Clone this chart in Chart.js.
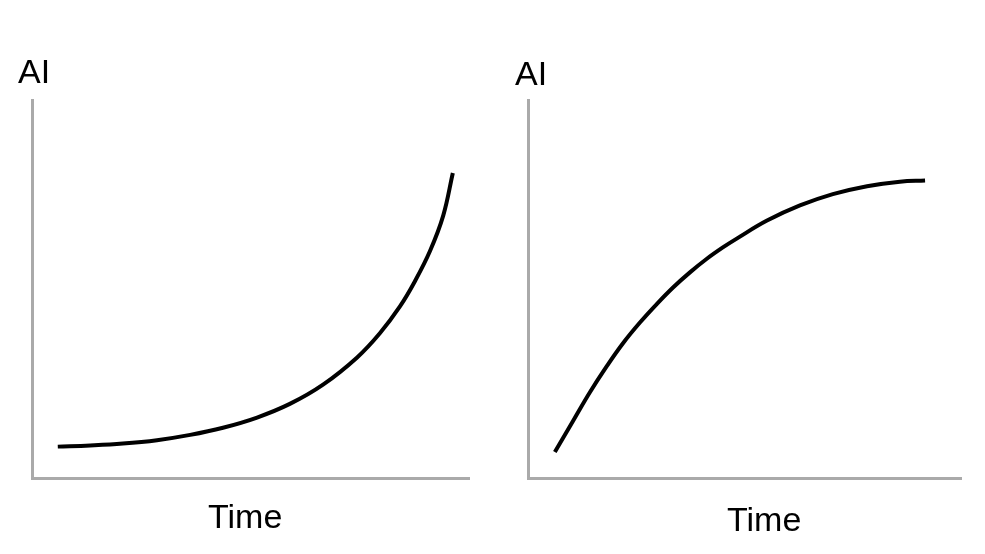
<!DOCTYPE html>
<html>
<head>
<meta charset="utf-8">
<script src="https://cdn.jsdelivr.net/npm/chart.js@4/dist/chart.umd.min.js"></script>
<style>
  html, body { margin: 0; padding: 0; background: #fff; }
  body { width: 985px; height: 554px; position: relative; overflow: hidden; font-family: "Liberation Sans", Arial, sans-serif; }
  .panel { position: absolute; top: 0; height: 554px; }
  .lbl { position: absolute; font-size: 34px; line-height: 34px; color: #000; white-space: nowrap; }
</style>
</head>
<body>
<div class="panel" style="left:0;width:500px;"><canvas id="c1"></canvas></div>
<div class="panel" style="left:496px;width:489px;"><canvas id="c2"></canvas></div>
<div class="lbl" style="left:18px;top:54px;">AI</div>
<div class="lbl" style="left:515px;top:56px;">AI</div>
<div class="lbl" style="left:208px;top:499px;">Time</div>
<div class="lbl" style="left:727px;top:502px;">Time</div>
<script>
// Left panel: accelerating growth
const leftTime = [5.9, 13.3, 20.8, 28.6, 36.2, 43.7, 51.5, 59.0, 66.6, 74.4, 79.6, 84.2, 87.6, 91.1, 94.1, 96.3];
const leftAI   = [8.3, 8.6, 9.1, 10.0, 11.4, 13.3, 16.0, 19.6, 24.7, 31.9, 38.3, 45.4, 52.0, 60.1, 69.4, 80.7];
// Right panel: saturating growth
const rightTime = [6.2, 10.4, 14.3, 18.2, 21.9, 25.9, 29.8, 33.5, 37.4, 41.3, 45.0, 48.3, 55.2, 62.8, 70.4, 78.3, 85.9, 91.7];
const rightAI   = [6.9, 15.1, 22.7, 29.6, 35.6, 41.2, 46.1, 50.4, 54.4, 58.0, 61.0, 63.4, 68.1, 72.1, 75.1, 77.2, 78.4, 78.7];
const axisLabelX = 'Time';
const axisLabelY = 'AI';

function pts(xs, ys) { return xs.map((x, i) => ({ x: x, y: ys[i] })); }

function makeChart(id, xs, ys, pad) {
  return new Chart(document.getElementById(id), {
    type: 'line',
    data: {
      datasets: [{
        label: axisLabelY + ' vs ' + axisLabelX,
        data: pts(xs, ys),
        borderColor: '#000',
        borderWidth: 4,
        pointRadius: 0,
        fill: false,
        tension: 0.4,
        borderCapStyle: 'butt',
        borderJoinStyle: 'round'
      }]
    },
    options: {
      responsive: true,
      maintainAspectRatio: false,
      animation: false,
      events: [],
      layout: { padding: pad },
      plugins: { legend: { display: false }, tooltip: { enabled: false }, title: { display: false } },
      scales: {
        x: {
          type: 'linear', min: 0, max: 100,
          grid: { display: false, drawTicks: false },
          border: { display: true, color: '#aaaaaa', width: 3 },
          ticks: { display: false }
        },
        y: {
          type: 'linear', min: 0, max: 100,
          grid: { display: false, drawTicks: false },
          border: { display: true, color: '#aaaaaa', width: 3 },
          ticks: { display: false }
        }
      }
    }
  });
}

makeChart('c1', leftTime, leftAI, { left: 32, top: 100, right: 31, bottom: 76 });
makeChart('c2', rightTime, rightAI, { left: 32, top: 100, right: 24, bottom: 76 });
</script>
</body>
</html>
